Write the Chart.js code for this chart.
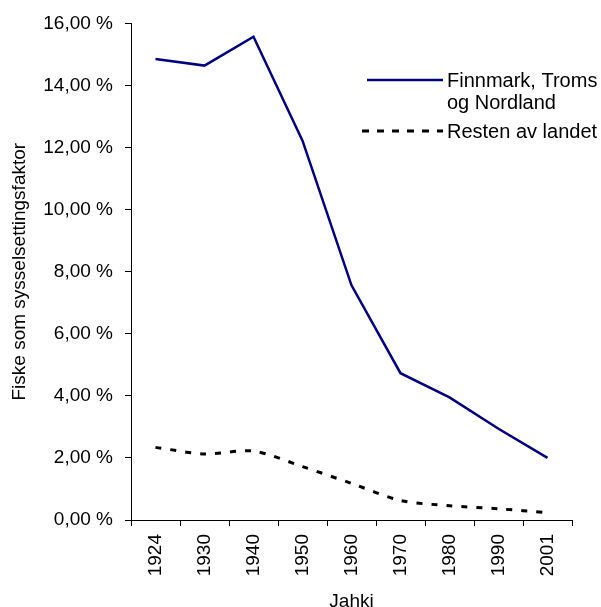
<!DOCTYPE html>
<html>
<head>
<meta charset="utf-8">
<script src="https://cdn.jsdelivr.net/npm/chart.js@4/dist/chart.umd.min.js"></script>
<style>
  html, body { margin: 0; padding: 0; background: #fff; }
  #wrap { width: 601px; height: 607px; }
</style>
</head>
<body>
<div id="wrap"><canvas id="chart" width="601" height="607"></canvas></div>
<script>
// Data (percent)
const years = ["1924", "1930", "1940", "1950", "1960", "1970", "1980", "1990", "2001"];
const nordNorge = [14.85, 14.64, 15.57, 12.22, 7.56, 4.73, 3.95, 2.94, 2.00];
const restenAvLandet = [2.34, 2.13, 2.22, 1.72, 1.18, 0.63, 0.46, 0.36, 0.24];
const legendLines = [["Finnmark, Troms", "og Nordland"], ["Resten av landet"]];

const FONT = "'Liberation Sans', Arial, sans-serif";

// legend drawn on the canvas, top right, with line samples
const legendPlugin = {
  id: "sideLegend",
  afterDraw(chart) {
    const ctx = chart.ctx;
    const sets = chart.data.datasets;
    const rows = [80, 131];
    ctx.save();
    ctx.font = "20px " + FONT;
    ctx.fillStyle = "#000";
    ctx.textBaseline = "middle";
    sets.forEach((ds, i) => {
      const y = rows[i];
      ctx.beginPath();
      ctx.strokeStyle = ds.borderColor;
      ctx.lineWidth = ds.borderWidth;
      ctx.setLineDash(i === 0 ? [] : [7, 8]);
      ctx.moveTo(i === 0 ? 367 : 362, y);
      ctx.lineTo(443, y);
      ctx.stroke();
      ctx.setLineDash([]);
      legendLines[i].forEach((t, j) => ctx.fillText(t, 447, y + 1 + j * 22));
    });
    ctx.restore();
  }
};

new Chart(document.getElementById("chart"), {
  type: "line",
  data: {
    labels: years,
    datasets: [{
      label: "Finnmark, Troms og Nordland",
      data: nordNorge,
      borderColor: "#000080",
      borderWidth: 2.5,
      pointRadius: 0,
      tension: 0,
      fill: false
    }, {
      label: "Resten av landet",
      data: restenAvLandet,
      borderColor: "#000",
      borderWidth: 3,
      borderDash: [6, 9],
      pointRadius: 0,
      tension: 0.3,
      fill: false
    }]
  },
  options: {
    responsive: false,
    animation: false,
    layout: { padding: { left: 8, top: 23, right: 29, bottom: 0 } },
    plugins: {
      legend: { display: false },
      tooltip: { enabled: false }
    },
    scales: {
      x: {
        offset: true,
        afterFit: s => { s.height = 87; },
        grid: { offset: true, drawOnChartArea: false, tickLength: 6, color: "#000" },
        border: { color: "#000", width: 1 },
        ticks: {
          autoSkip: false, minRotation: 90, maxRotation: 90, padding: 8,
          color: "#000", font: { family: FONT, size: 19 }
        },
        title: {
          display: true, text: "Jahki", color: "#000",
          font: { family: FONT, size: 19 }, padding: { top: 0, bottom: -6 }
        }
      },
      y: {
        min: 0,
        max: 16,
        afterFit: s => { s.width = 123; },
        grid: { drawOnChartArea: false, tickLength: 6, color: "#000" },
        border: { color: "#000", width: 1 },
        ticks: {
          stepSize: 2, padding: 12, color: "#000",
          font: { family: FONT, size: 19 },
          callback: v => v.toFixed(2).replace(".", ",") + " %"
        },
        title: {
          display: true, text: "Fiske som sysselsettingsfaktor", color: "#000",
          font: { family: FONT, size: 19 }, padding: { top: 0, bottom: 0 }
        }
      }
    }
  },
  plugins: [legendPlugin]
});
</script>
</body>
</html>
